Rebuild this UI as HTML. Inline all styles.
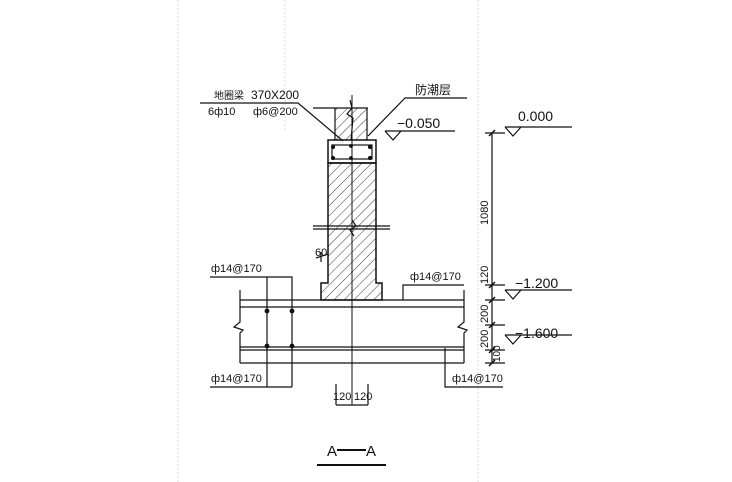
<!DOCTYPE html><html><head><style>body{margin:0;background:#fff}svg{display:block}text{font-family:"Liberation Sans","Noto Sans CJK SC",sans-serif;fill:#111}</style></head><body>
<svg width="732" height="482" viewBox="0 0 732 482" xmlns="http://www.w3.org/2000/svg">
<defs><pattern id="h" width="7" height="7" patternUnits="userSpaceOnUse" patternTransform="rotate(45)"><line x1="0" y1="0" x2="0" y2="7" stroke="#222" stroke-width="0.9"/></pattern></defs>
<g stroke="#ddd" stroke-width="1" stroke-dasharray="2,2">
<line x1="178" y1="0" x2="178" y2="482"/><line x1="478" y1="0" x2="478" y2="482"/><line x1="285" y1="0" x2="285" y2="130"/>
</g>
<g stroke="#111" stroke-width="1.2" fill="none">
<!-- column above -->
<path d="M335 108 V140 M367 108 V140"/>
<rect x="335" y="108" width="32" height="32" fill="url(#h)" stroke="none"/>
<line x1="313" y1="108" x2="368" y2="108"/>
<path d="M350 100 L352 108 L347 114 L353 118 L351 140"/>
<!-- beam -->
<rect x="328" y="140" width="48" height="23" stroke-width="1.5"/>
<rect x="332" y="145" width="40" height="14"/>
<g fill="#111"><circle cx="333" cy="147" r="1.5"/><circle cx="370" cy="147" r="1.5"/><circle cx="333" cy="158" r="1.5"/><circle cx="370" cy="158" r="1.5"/><circle cx="351" cy="146" r="1.3"/><circle cx="351" cy="158" r="1.3"/></g>
<!-- wall -->
<path d="M328 163 V283 H321 V300 H382 V283 H376 V163 Z" fill="url(#h)" stroke-width="1.5"/>
<path d="M313 226 H390 M313 229 H390"/>
<path d="M352 220 L356 226 L350 230 L354 236"/>
<!-- centerline -->
<line x1="352" y1="95" x2="352" y2="405" stroke-width="1"/>
<!-- slab -->
<path d="M240 300 H464 M240 307 H464 M240 347 H464 M240 350 H464 M240 363 H464" />
<path d="M240 290 V322 L234 327 L243 330 L240 333 V363"/>
<path d="M464 290 V322 L458 327 L467 330 L464 333 V363"/>
<!-- rebar left -->
<path d="M210 277 H292 V387 M267 277 V387 M210 387 H292"/>
<g fill="#111"><circle cx="267" cy="311" r="1.8"/><circle cx="292" cy="311" r="1.8"/><circle cx="267" cy="346" r="1.8"/><circle cx="292" cy="346" r="1.8"/></g>
<path d="M403 300 V285 H464"/>
<path d="M445 348 V387 H503"/>
<!-- leaders -->
<path d="M200 103 H298 L343 141"/>
<path d="M467 98 H405 L368 136"/>
<!-- -0.050 -->
<path d="M385 131 H455 M385 131 L393 140 L401 131"/>
<!-- dimension -->
<line x1="492" y1="133" x2="492" y2="363"/>
<path d="M485 133 H505 M485 285 H505 M485 300 H505 M485 325 H505 M485 350 H505 M485 363 H505"/>
<g stroke-width="1.5"><path d="M489 136 L495 130 M489 288 L495 282 M489 303 L495 297 M489 328 L495 322 M489 353 L495 347 M489 366 L495 360"/></g>
<!-- elevations -->
<path d="M505 127 H572 M505 127 L513 136 L521 127"/>
<path d="M505 290 H572 M505 290 L513 299 L521 290"/>
<path d="M505 335 H572 M505 335 L513 344 L521 335"/>
<!-- 60 -->
<path d="M316 258 L328 254 M321 252 V262"/>
<!-- 120 120 -->
<path d="M336 384 V405 M368 384 V405 M336 405 H368"/>
<line x1="317" y1="465" x2="386" y2="465" stroke-width="2"/>
<line x1="337" y1="450" x2="366" y2="450" stroke-width="2"/>
</g>
<g font-size="12">
<text x="214" y="99" font-size="10">地圈梁</text><text x="251" y="99">370X200</text>
<text x="208" y="115" font-size="11">6ф10</text><text x="253" y="115" font-size="11">ф6@200</text>
<text x="415" y="94">防潮层</text>
<text x="397" y="128" font-size="14">−0.050</text>
<text x="518" y="121" font-size="14">0.000</text>
<text x="515" y="288" font-size="14">−1.200</text>
<text x="515" y="338" font-size="14">−1.600</text>
<text x="211" y="272" font-size="11">ф14@170</text>
<text x="410" y="280" font-size="11">ф14@170</text>
<text x="211" y="382" font-size="11">ф14@170</text>
<text x="452" y="382" font-size="11">ф14@170</text>
<text x="315" y="256" font-size="11">60</text>
<text x="333" y="400" font-size="11">120</text><text x="354" y="400" font-size="11">120</text>
<text x="327" y="456" font-size="15">A</text><text x="366" y="456" font-size="15">A</text>
<g font-size="11"><text transform="translate(488,225) rotate(-90)">1080</text><text transform="translate(488,284) rotate(-90)">120</text><text transform="translate(488,323) rotate(-90)">200</text><text transform="translate(488,348) rotate(-90)">200</text><text transform="translate(500,362) rotate(-90)" font-size="10">100</text></g>
</g>
</svg></body></html>
